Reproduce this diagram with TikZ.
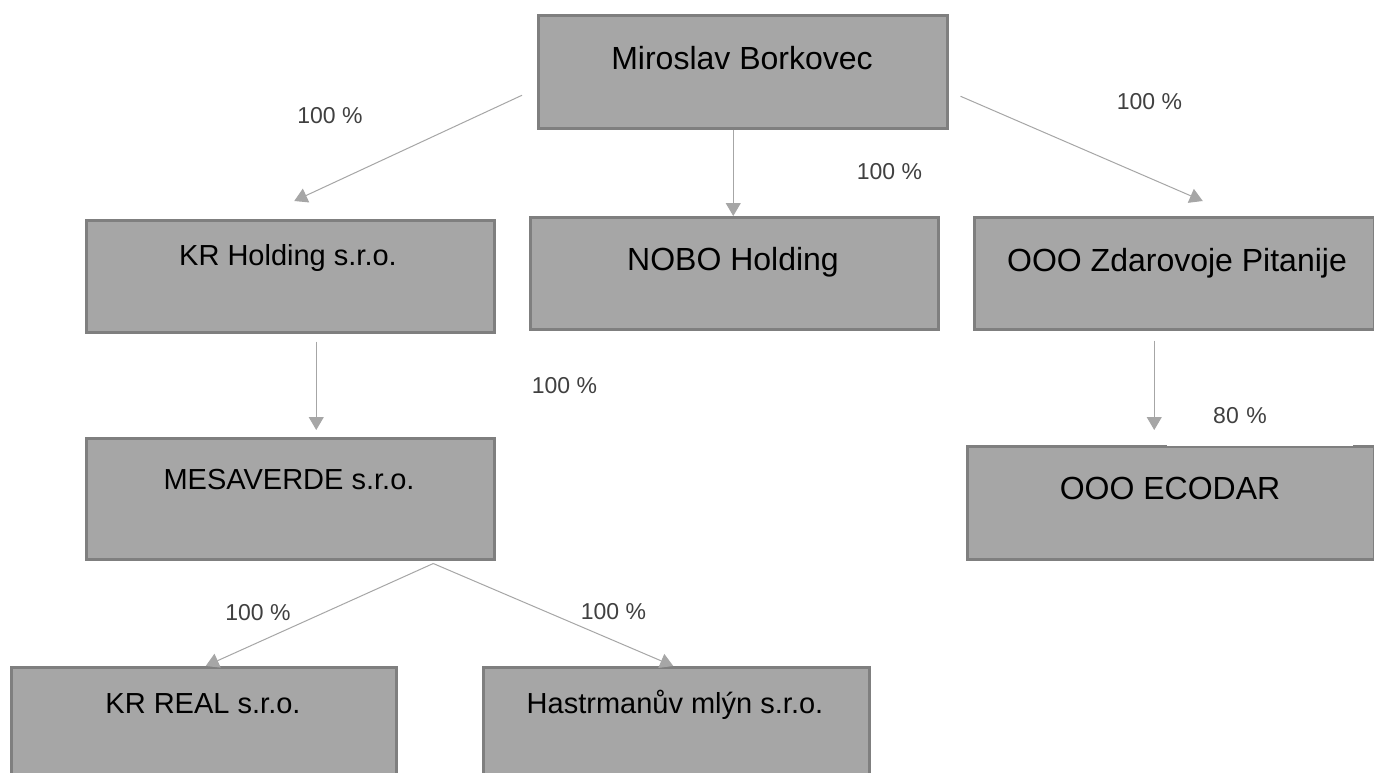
\documentclass[tikz,border=0pt]{standalone}
\usepackage{fontspec}
\setmainfont{Liberation Sans}
\usetikzlibrary{arrows.meta,calc}
\definecolor{boxfill}{HTML}{A6A6A6}
\definecolor{boxline}{HTML}{7F7F7F}
\definecolor{conncol}{HTML}{A6A6A6}
\definecolor{labcol}{HTML}{404040}
\begin{document}
\begin{tikzpicture}[x=1pt,y=-1pt,
  orgbox/.style={draw=boxline, fill=boxfill, line width=2.5pt, rectangle, inner sep=0pt, anchor=north west},
  bigtxt/.style={anchor=base, font=\fontsize{32}{38}\selectfont, text=black, inner sep=0pt},
  midtxt/.style={anchor=base, font=\fontsize{29}{35}\selectfont, text=black, inner sep=0pt},
  pct/.style={anchor=base, font=\fontsize{23}{28}\selectfont, text=labcol, inner sep=0pt},
  conn/.style={draw=conncol, line width=1pt, -{Triangle[length=13pt,width=15pt]}}]
\clip (0,0) rectangle (1374,772);
\fill[white] (0,0) rectangle (1374,772);
% boxes
\node[orgbox, minimum width=409pt, minimum height=113pt] (mb) at (537,14) {};
\node[orgbox, minimum width=408pt, minimum height=112pt] (kr) at (85,219) {};
\node[orgbox, minimum width=408pt, minimum height=112pt] (nobo) at (529,216) {};
\node[orgbox, minimum width=400pt, minimum height=112pt] (zp) at (973,216) {};
\node[orgbox, minimum width=408pt, minimum height=121pt] (mesa) at (85,437) {};
\node[orgbox, minimum width=407pt, minimum height=113pt] (eco) at (966,445) {};
\node[orgbox, minimum width=385pt, minimum height=140pt] (krreal) at (10,666) {};
\node[orgbox, minimum width=386pt, minimum height=140pt] (hast) at (482,666) {};
% box texts
\node[bigtxt] (mbt) at (742,69) {Miroslav Borkovec};
\node[midtxt] (krt) at (288,265) {KR Holding s.r.o.};
\node[bigtxt] (nobot) at (733,270) {NOBO Holding};
\node[bigtxt] (zpt) at (1177,271) {OOO Zdarovoje Pitanije};
\node[midtxt] (mesat) at (289,489) {MESAVERDE s.r.o.};
\node[bigtxt] (ecot) at (1170,499) {OOO ECODAR};
\node[midtxt] (krrealt) at (203,713) {KR REAL s.r.o.};
\node[midtxt] (hastt) at (675,713) {Hastrmanův mlýn s.r.o.};
% connectors
\draw[conn] ($(mb.west)+(-15,23.5)$) -- ($(kr.north)+(4,-18)$);
\draw[conn] ($(mb.south)+(-9.5,0)$) -- ($(nobo.north)+(-1,0)$);
\draw[conn] ($(mb.east)+(12,24.5)$) -- ($(zp.north)+(28.5,-15)$);
\draw[conn] ($(kr.south)+(26,8)$) -- ($(mesa.north)+(26,-7)$);
\draw[conn] ($(zp.south)+(-20,10)$) -- ($(eco.north)+(-16.5,-15)$);
\draw[conn] ($(mesa.south)+(143,3)$) -- ($(krreal.north)+(2,0)$);
\draw[conn] ($(mesa.south)+(143,3)$) -- ($(hast.north)+(-3,0)$);
% percentage labels
\node[pct] (p1) at (330,123) {100 \%};
\node[pct] (p2) at (889.5,179) {100 \%};
\node[pct] (p3) at (1149.5,109) {100 \%};
\node[pct] (p4) at (564.5,393) {100 \%};
\node[pct, anchor=base west, fill=white, inner xsep=46pt, inner ysep=23pt, text width=94pt, text depth=0pt, align=left] (p5) at (1167,423) {80 \%};
\node[pct] (p6) at (258,620) {100 \%};
\node[pct] (p7) at (613.5,619) {100 \%};
\end{tikzpicture}
\end{document}
